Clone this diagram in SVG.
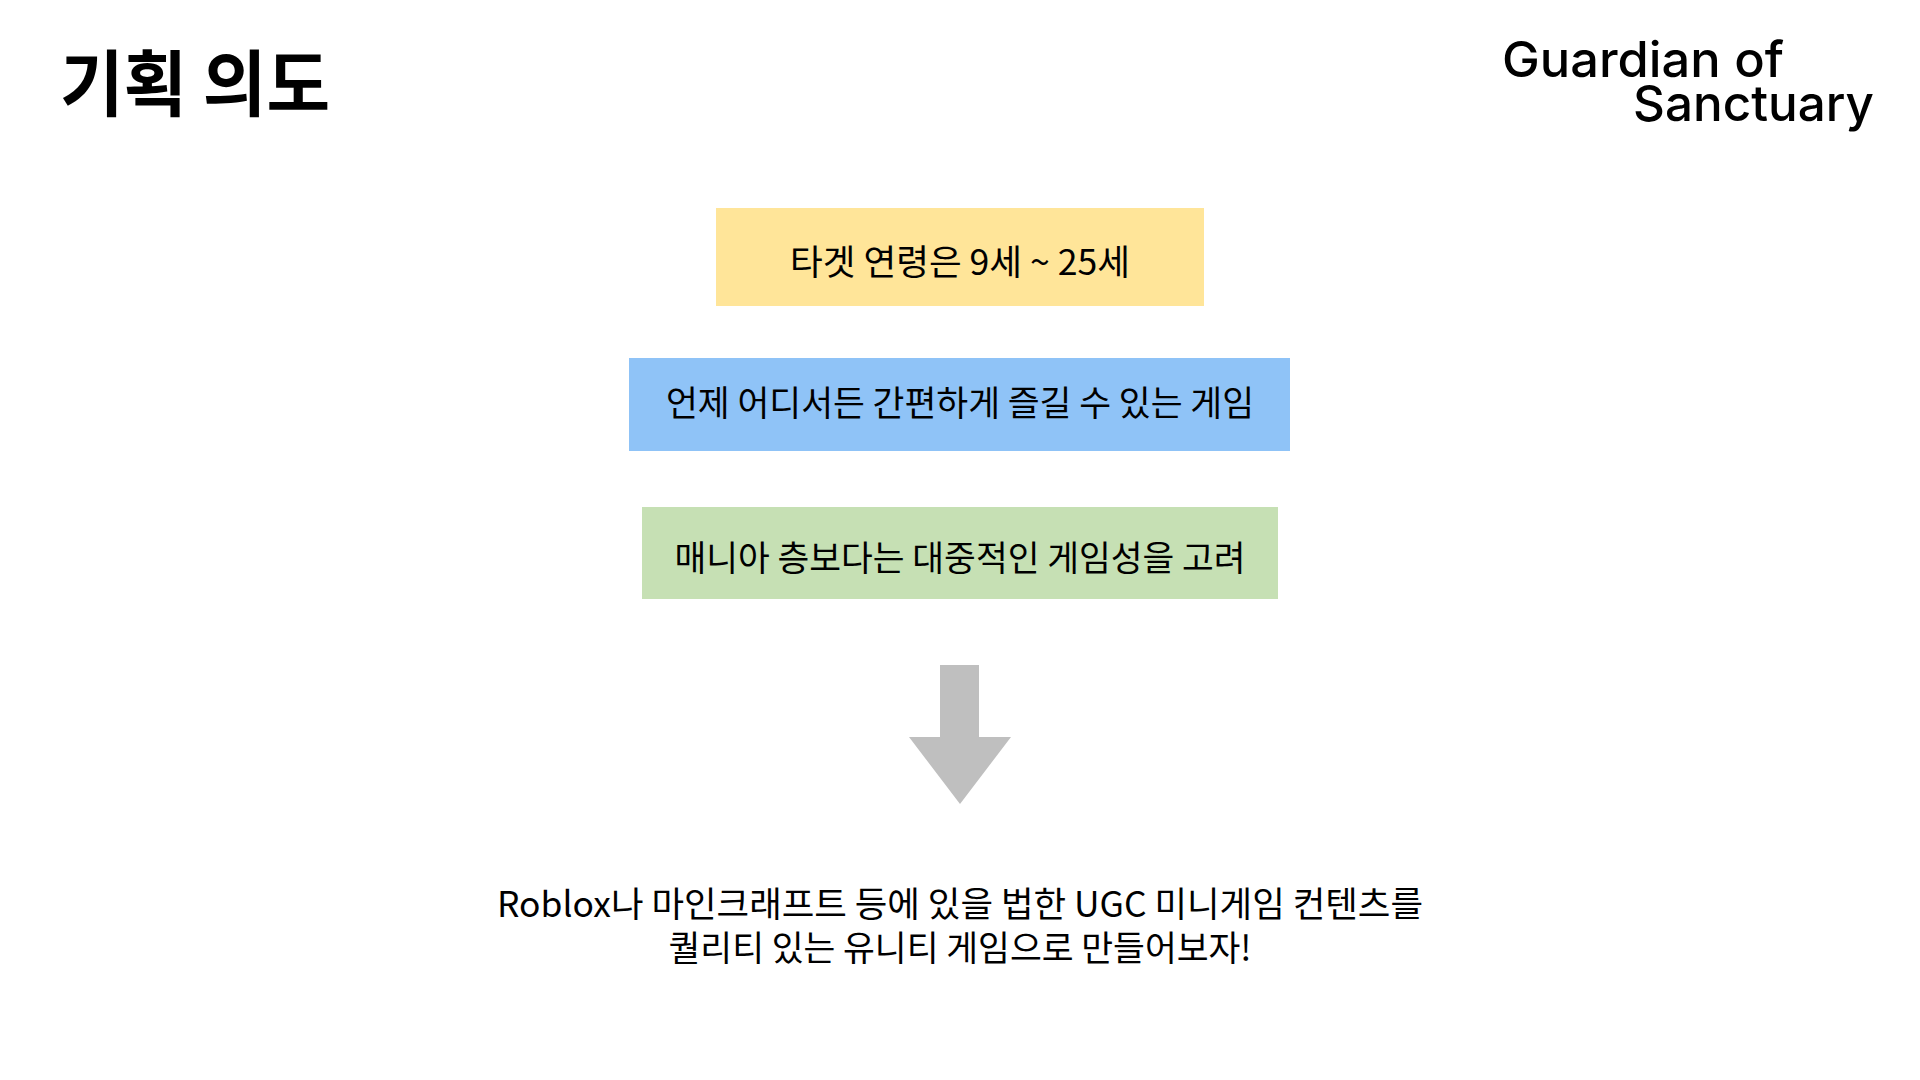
<svg xmlns="http://www.w3.org/2000/svg" width="1920" height="1080" viewBox="0 0 1920 1080">
<style>
.ko{font-family:"Noto Sans CJK KR","Noto Sans",sans-serif;fill:#000;}
.body{font-size:35px;font-weight:400;}
.title{font-size:72px;font-weight:700;}
.logo{font-family:Inter,"Liberation Sans",sans-serif;font-size:50px;font-weight:500;fill:#000;}
</style>
<rect x="0" y="0" width="1920" height="1080" fill="#ffffff"/>
<g id="title">
<text class="ko title" x="60" y="110" textLength="270" lengthAdjust="spacingAndGlyphs">기획 의도</text>
</g>
<g id="logo">
<text class="logo" x="1502" y="77" textLength="282" lengthAdjust="spacingAndGlyphs">Guardian of</text>
<text class="logo" x="1633" y="121" textLength="241" lengthAdjust="spacingAndGlyphs">Sanctuary</text>
</g>
<g id="node-target">
<rect x="716" y="208" width="488" height="98" fill="#FFE599"/>
<text class="ko body" x="960" y="275" text-anchor="middle" textLength="340" lengthAdjust="spacingAndGlyphs">타겟 연령은 9세 ~ 25세</text>
</g>
<g id="node-anytime">
<rect x="629" y="358" width="661" height="93" fill="#8FC3F7"/>
<text class="ko body" x="960" y="416" text-anchor="middle" textLength="588" lengthAdjust="spacingAndGlyphs">언제 어디서든 간편하게 즐길 수 있는 게임</text>
</g>
<g id="node-public">
<rect x="642" y="507" width="636" height="92" fill="#C6E0B4"/>
<text class="ko body" x="960" y="571" text-anchor="middle" textLength="571" lengthAdjust="spacingAndGlyphs">매니아 층보다는 대중적인 게임성을 고려</text>
</g>
<g id="connectors">
<polygon points="940,665 979,665 979,737 1011,737 960,804 909,737 940,737" fill="#BFBFBF"/>
</g>
<g id="conclusion">
<text class="ko body" x="960" y="917" text-anchor="middle" textLength="926" lengthAdjust="spacingAndGlyphs">Roblox나 마인크래프트 등에 있을 법한 UGC 미니게임 컨텐츠를</text>
<text class="ko body" x="960" y="961" text-anchor="middle" textLength="583" lengthAdjust="spacingAndGlyphs">퀄리티 있는 유니티 게임으로 만들어보자!</text>
</g>
</svg>
